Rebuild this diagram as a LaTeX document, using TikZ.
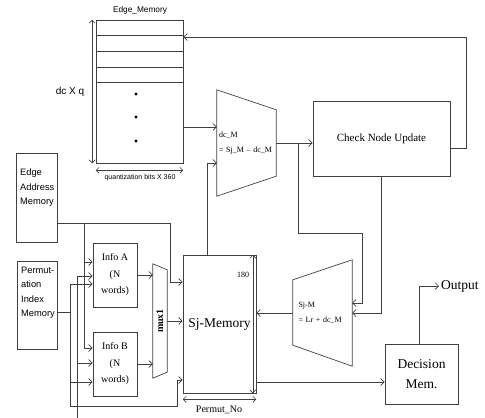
\documentclass[tikz,border=0pt]{standalone}
\usepackage{fontspec}
\setmainfont{Liberation Serif}
\setsansfont{Liberation Sans}
\usetikzlibrary{arrows.meta}
\definecolor{linegray}{RGB}{64,64,64}

\begin{document}
\begin{tikzpicture}[
  x=1pt, y=-1pt,
  % Node Styles
  blockbox/.style={rectangle, draw=linegray, line width=0.7pt, inner sep=0pt, align=center},
  ghostbox/.style={rectangle, inner sep=0pt},
  sanstext/.style={inner sep=0pt, align=left, font=\sffamily\fontsize{9.3}{14.5}\selectfont},
  % Arrow Styles
  flowarrow/.style={-{Straight Barb[length=3.5pt,width=7pt]}, draw=linegray, line width=0.7pt},
  dimarrow/.style={{Straight Barb[length=3pt,width=6pt]}-{Straight Barb[length=3pt,width=6pt]}, draw=linegray, line width=0.7pt},
  plainline/.style={draw=linegray, line width=0.7pt},
]
\tikzset{font=\small}

\useasboundingbox (0,0) rectangle (485,418);

% Edge memory block
\node[blockbox, minimum width=87pt, minimum height=143pt] (edgemem) at (139.5,91.5) {};
\foreach \r in {15.5,31.5,47.5,62.5}
  \draw[plainline] ([yshift=-\r pt]edgemem.north west) -- ([yshift=-\r pt]edgemem.north east);
\foreach \d in {94,117,141}
  \fill[black] (136,\d) circle (1.6pt);
\node[font=\sffamily\fontsize{8.3}{10}\selectfont] (edgemem_title) at (140,10) {Edge\_Memory};
\draw[dimarrow] ([xshift=-3.5pt]edgemem.north west) -- ([xshift=-3.5pt]edgemem.south west);
\node[font=\sffamily\fontsize{10}{12}\selectfont] (edgemem_depth) at (70,92) {dc X q};
\draw[dimarrow] ([yshift=-7pt]edgemem.south west) -- ([yshift=-7pt]edgemem.south east);
\node[font=\sffamily\fontsize{7}{8}\selectfont] (edgemem_width) at (140,178) {quantization bits X 360};

% Subtractors and check node update
\node[ghostbox, minimum width=58pt, minimum height=106pt, text width=56pt, align=left, font=\fontsize{8}{15}\selectfont] (sub1) at (247,143) {dc\_M\\= Sj\_M – dc\_M};
\draw[plainline] ([xshift=-1pt]sub1.north west) -- ([yshift=-20pt]sub1.north east) -- ([yshift=20pt]sub1.south east) -- ([xshift=-1pt]sub1.south west) -- cycle;
\node[blockbox, minimum width=137pt, minimum height=75pt, font=\fontsize{11}{13}\selectfont] (cnu) at (381.5,138.5) {Check Node Update};
\node[ghostbox, minimum width=59pt, minimum height=106pt, text width=48pt, align=left, font=\fontsize{8}{15}\selectfont] (sub2) at (322.5,313) {Sj-M\\= Lr + dc\_M};
\draw[plainline] ([yshift=-20pt]sub2.north west) -- (sub2.north east) -- (sub2.south east) -- ([yshift=21pt]sub2.south west) -- cycle;

% Sj memory and decision
\node[blockbox, minimum width=73pt, minimum height=138pt, font=\fontsize{13.5}{16}\selectfont] (sjmem) at (219.5,324) {Sj-Memory};
\draw[dimarrow] ([xshift=-3.5pt]sjmem.north east) -- ([xshift=-3.5pt]sjmem.south east);
\node[font=\fontsize{8}{10}\selectfont] (sjmem_depth) at (243,275) {180};
\draw[dimarrow] ([yshift=-6pt]sjmem.south west) -- ([yshift=-6pt]sjmem.south east);
\node[font=\fontsize{10}{12}\selectfont] (sjmem_width) at (219,410) {Permut\_No};
\node[blockbox, minimum width=73pt, minimum height=60pt, font=\fontsize{13.5}{20}\selectfont] (decmem) at (421.5,374) {Decision\\Mem.};
\node[anchor=west, inner sep=0pt, font=\fontsize{13.5}{16}\selectfont] (output) at (441,286) {Output};

% Left memories, info buffers and mux
\node[blockbox, minimum width=41pt, minimum height=89pt] (eam) at (36.5,197.5) {};
\node[sanstext, anchor=north west] (eam_text) at (20,169) {Edge\\Address\\Memory};
\node[blockbox, minimum width=40pt, minimum height=88pt] (pim) at (37,305) {};
\node[sanstext, anchor=north west] (pim_text) at (21,266.5) {Permut-\\ation\\Index\\Memory};
\node[blockbox, minimum width=44pt, minimum height=64pt, font=\fontsize{10}{16.5}\selectfont] (infoa) at (115,275) {Info A\\(N\\words)};
\node[blockbox, minimum width=44pt, minimum height=64pt, font=\fontsize{10}{16.5}\selectfont] (infob) at (115,364) {Info B\\(N\\words)};
\node[ghostbox, minimum width=14pt, minimum height=114pt] (mux) at (160,321) {};
\draw[plainline] (mux.north west) -- ([yshift=-6pt]mux.north east) -- ([yshift=6pt]mux.south east) -- (mux.south west) -- cycle;
\node[rotate=90, font=\bfseries\fontsize{10}{12}\selectfont] (mux_label) at (mux.center) {mux1};

% Right side connectors
\draw[flowarrow] (edgemem.east |- 0,127) -- ([xshift=-1pt]sub1.west |- 0,127);
\draw[flowarrow] (sjmem.north -| 207,0) |- ([xshift=-1pt]sub1.west |- 0,163);
\draw[flowarrow] (sub1.east) -- (sub1.east -| cnu.west);
\coordinate (cnu_branch) at (298,143);
\draw[flowarrow] (cnu_branch) |- (362,233) |- ([yshift=10pt]sub2.east);
\draw[flowarrow] (cnu.south) |- (sub2.east);
\draw[flowarrow] ([yshift=-9.5pt]cnu.east) -| (466,37) -- (edgemem.east |- 0,37);
\draw[flowarrow] (sub2.west) -- (sub2.west -| sjmem.east);
\draw[flowarrow] (sjmem.east |- 0,382) -- (decmem.west |- 0,382);
\draw[flowarrow] ([xshift=-2.5pt]decmem.north) |- ([xshift=-2pt]output.west);

% Left side connectors
\coordinate (ea_split) at (84,223);
\coordinate (ea_turn) at (170,223);
\draw[plainline] (eam.east |- ea_split) -- (ea_turn);
\draw[flowarrow] (ea_turn) |- (sjmem.west |- 0,282);
\draw[flowarrow] (ea_split) |- (infob.west |- 0,348);
\draw[flowarrow] (ea_split |- 0,262) -- (infoa.west |- 0,262);
\coordinate (pi_bus) at (70,312);
\draw[flowarrow] (pim.east |- pi_bus) -| (pi_bus |- 0,284) -- (infoa.west |- 0,284);
\draw[flowarrow] (pi_bus) |- (177,406) |- (sjmem.west |- 0,380);
\draw[flowarrow] (pi_bus |- 0,382) -- (infob.west |- 0,382);
\draw[flowarrow] (77,418) |- (infoa.west |- 0,276);
\draw[flowarrow] (77,363) -- (infob.west |- 0,363);
\draw[flowarrow] (infoa.east) -- (infoa.east -| mux.west);
\draw[flowarrow] (infob.east) -- (infob.east -| mux.west);
\draw[flowarrow] (mux.east) -- (mux.east -| sjmem.west);

\end{tikzpicture}
\end{document}
